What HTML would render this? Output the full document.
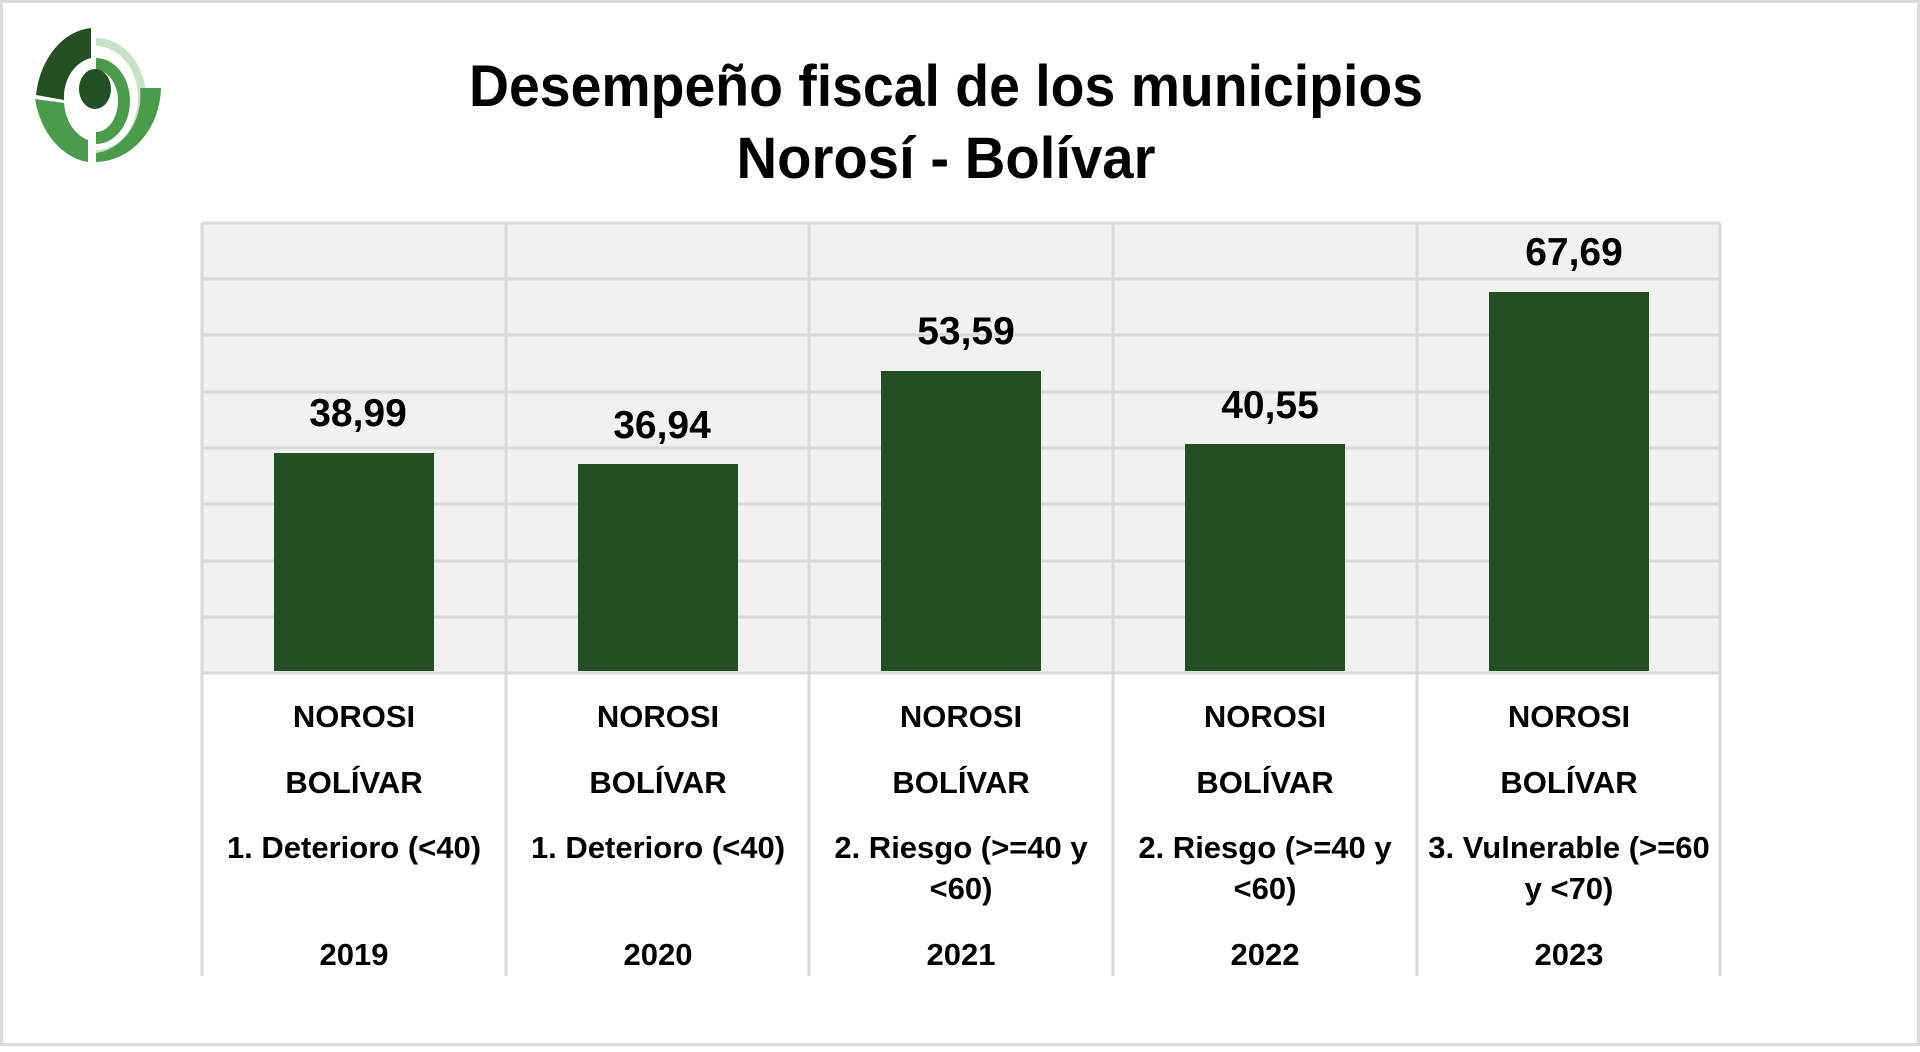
<!DOCTYPE html>
<html><head><meta charset="utf-8"><style>
html,body{margin:0;padding:0;background:#fff;}
body{width:1920px;height:1047px;overflow:hidden;position:relative;}
svg text{font-family:"Liberation Sans Narrow","Liberation Sans",sans-serif;font-weight:bold;fill:#000;}
</style></head><body>
<svg width="1920" height="1047" viewBox="0 0 1920 1047" xmlns="http://www.w3.org/2000/svg">
<rect x="1.5" y="1.5" width="1917" height="1043" fill="#fff" stroke="#dcdcdc" stroke-width="3"/>
<g>
<path d="M91,28 A60,78 0 0 0 36,95 L64,100 A34,40 0 0 1 91,58 Z" fill="#225022"/>
<path d="M35,99 L64,103 A34,42 0 0 0 88,140 L88,162 A62,80 0 0 1 35,99 Z" fill="#4a9c4a"/>
<path d="M96,58 A34,43 0 0 1 96,144 L96,132 A22,31 0 0 0 96,70 Z" fill="#4a9c4a"/>
<path d="M96,38 A50,60 0 0 1 96,158 L96,150 A42,52 0 0 0 96,46 Z" fill="#c7e3c7"/>
<path d="M140,88 L161,88 A66,76 0 0 1 96,162 L96,153 A50,58 0 0 0 140,88 Z" fill="#4a9c4a"/>
<ellipse cx="95" cy="89" rx="16" ry="20" fill="#225022"/>
</g>
<text x="946" y="106" font-size="58" text-anchor="middle" textLength="954" lengthAdjust="spacingAndGlyphs">Desempeño fiscal de los municipios</text>
<text x="946" y="178" font-size="58" text-anchor="middle" textLength="419" lengthAdjust="spacingAndGlyphs">Norosí - Bolívar</text>
<rect x="202" y="223" width="1518" height="449" fill="#f1f1f1"/>
<g stroke="#d9d9d9" stroke-width="3">
<line x1="202" y1="223" x2="1720" y2="223"/>
<line x1="202" y1="279" x2="1720" y2="279"/>
<line x1="202" y1="335" x2="1720" y2="335"/>
<line x1="202" y1="392" x2="1720" y2="392"/>
<line x1="202" y1="448" x2="1720" y2="448"/>
<line x1="202" y1="504" x2="1720" y2="504"/>
<line x1="202" y1="561" x2="1720" y2="561"/>
<line x1="202" y1="617" x2="1720" y2="617"/>
<line x1="202" y1="673" x2="1720" y2="673"/>
<line x1="202" y1="223" x2="202" y2="976"/>
<line x1="506" y1="223" x2="506" y2="976"/>
<line x1="809" y1="223" x2="809" y2="976"/>
<line x1="1113" y1="223" x2="1113" y2="976"/>
<line x1="1417" y1="223" x2="1417" y2="976"/>
<line x1="1720" y1="223" x2="1720" y2="976"/>
</g>
<g fill="#224f22">
<rect x="274" y="453" width="160" height="218"/>
<rect x="578" y="464" width="160" height="207"/>
<rect x="881" y="371" width="160" height="300"/>
<rect x="1185" y="444" width="160" height="227"/>
<rect x="1489" y="292" width="160" height="379"/>
</g>
<g font-size="39" text-anchor="middle">
<text x="358" y="426">38,99</text>
<text x="662" y="438">36,94</text>
<text x="966" y="344">53,59</text>
<text x="1270" y="418">40,55</text>
<text x="1574" y="265">67,69</text>
</g>
<g font-size="31" text-anchor="middle">
<text x="354" y="727">NOROSI</text><text x="354" y="793">BOLÍVAR</text><text x="354" y="858">1. Deterioro (&lt;40)</text><text x="354" y="965">2019</text>
<text x="658" y="727">NOROSI</text><text x="658" y="793">BOLÍVAR</text><text x="658" y="858">1. Deterioro (&lt;40)</text><text x="658" y="965">2020</text>
<text x="961" y="727">NOROSI</text><text x="961" y="793">BOLÍVAR</text><text x="961" y="858">2. Riesgo (&gt;=40 y</text><text x="961" y="899">&lt;60)</text><text x="961" y="965">2021</text>
<text x="1265" y="727">NOROSI</text><text x="1265" y="793">BOLÍVAR</text><text x="1265" y="858">2. Riesgo (&gt;=40 y</text><text x="1265" y="899">&lt;60)</text><text x="1265" y="965">2022</text>
<text x="1569" y="727">NOROSI</text><text x="1569" y="793">BOLÍVAR</text><text x="1569" y="858">3. Vulnerable (&gt;=60</text><text x="1569" y="899">y &lt;70)</text><text x="1569" y="965">2023</text>
</g>
</svg>
</body></html>
